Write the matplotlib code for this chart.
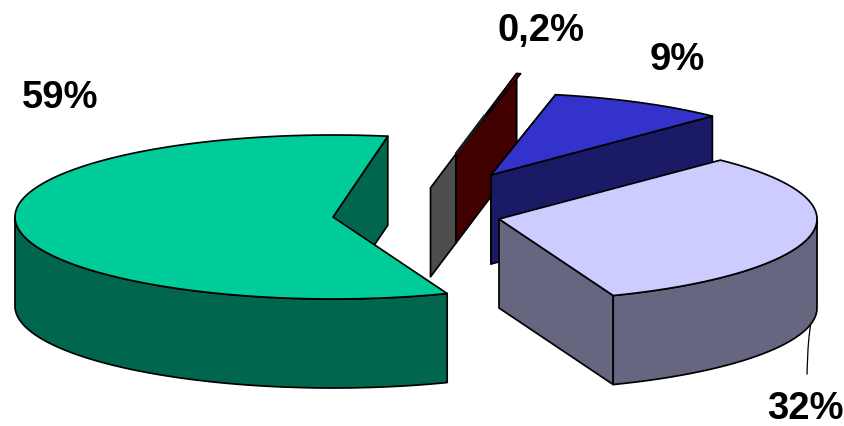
import numpy as np
import matplotlib
matplotlib.use("Agg")
import matplotlib.pyplot as plt
from matplotlib.patches import Polygon

# Data
categories = ["A", "B", "C", "D"]
values = [0.2, 9.0, 31.9, 58.6]
labels = ["0,2%", "9%", "32%", "59%"]

# Layout and style (pixel space of the figure)
W, H = 845, 427
RX, RY, DEPTH = 318, 82, 89
START = 79.0
centers = {"A": (456, 155), "B": (491, 176), "C": (499, 220), "D": (333, 218)}
top_colors = {"A": "#800000", "B": "#3333CC", "C": "#CCCCFF", "D": "#00CC99"}
side_colors = {"A": "#400000", "B": "#1A1A66", "C": "#666680", "D": "#00664D"}
label_pos = {"A": (541.5, 41), "B": (677.5, 70), "C": (805.5, 419), "D": (60, 108)}
EDGE = "black"
LW = 1.25

plt.rcParams["font.family"] = ["Liberation Sans", "DejaVu Sans"]
fig = plt.figure(figsize=(W / 100, H / 100), dpi=100, facecolor="white")
ax = fig.add_axes([0, 0, 1, 1])
ax.set_xlim(0, W)
ax.set_ylim(H, 0)
ax.axis("off")

# Angular extent of every slice, clockwise from START
spans = {}
a = START
for c, v in zip(categories, values):
    b = a - 360 * v / 100
    spans[c] = (a, b)
    a = b


def rim(c, t):
    cx, cy = centers[c]
    t = np.radians(t)
    return np.column_stack([cx + RX * np.cos(t), cy - RY * np.sin(t)])


def poly(pts, color, z):
    ax.add_patch(Polygon(pts, closed=True, facecolor=color, edgecolor=EDGE,
                         linewidth=LW, joinstyle="round", zorder=z))


def drop(pts):
    return np.asarray(pts) + [0, DEPTH]


def cut_face(c, t, z):
    apex = np.array(centers[c], float)
    p = rim(c, t)[0]
    poly(np.array([apex, p, p + [0, DEPTH], apex + [0, DEPTH]]), side_colors[c], z)


def wall(c, t0, t1, z):
    arc = rim(c, np.linspace(t0, t1, 200))
    poly(np.vstack([arc, drop(arc)[::-1]]), side_colors[c], z)


def top(c, z):
    t0, t1 = spans[c]
    arc = rim(c, np.linspace(t0, t1, 300))
    poly(np.vstack([[centers[c]], arc]), top_colors[c], z)


# Thin slice: the grey face runs on from the apex, opposite its rim
apex_a = np.array(centers["A"], float)
rim_a = rim("A", spans["A"][0])[0]
back = apex_a - 0.42 * (rim_a - apex_a)
poly(np.array([back, apex_a, apex_a + [0, DEPTH], back + [0, DEPTH]]), "#4D4D4D", 1)
cut_face("A", spans["A"][0], 2)
top("A", 3)
ax.plot(*np.array([apex_a, apex_a + 0.48 * (rim_a - apex_a)]).T, color="#1a1a1a", lw=2.2,
        solid_capstyle="butt", zorder=3)

# Blue slice
cut_face("B", spans["B"][0], 4)
cut_face("B", spans["B"][1], 5)
top("B", 6)

# Green slice
cut_face("D", spans["D"][1], 7)
wall("D", -180, spans["D"][0], 8)
top("D", 9)

# Lavender slice
cut_face("C", spans["C"][1], 10)
wall("C", spans["C"][1], 0, 11)
top("C", 12)

# Leader line
ax.plot([810.5, 809, 808, 807.5, 807], [326, 338, 350, 362, 375], color="black", lw=0.9, zorder=13)

for c, lab in zip(categories, labels):
    x, y = label_pos[c]
    ax.text(x, y, lab, fontsize=27.5, fontweight="bold", ha="center", va="baseline",
            color="black", zorder=14)

fig.savefig("out.png", dpi=100, facecolor="white")
